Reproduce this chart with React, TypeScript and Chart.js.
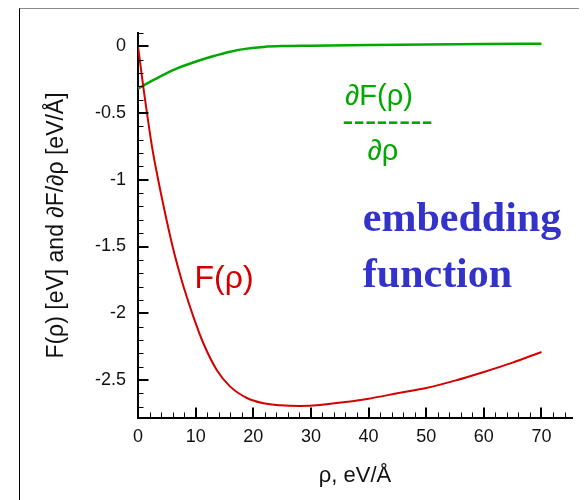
import React, { useEffect, useRef } from 'react';
import { Chart, registerables } from 'chart.js';

Chart.register(...registerables);

// ---- data ----
const RHO_F = [0, 0.5, 1, 1.56, 2.5, 3.5, 4.5, 6, 7, 8, 9.6, 11.34, 13.66, 16, 18.9, 21.8, 24.7, 28, 31.6, 36, 40, 45, 50, 55, 60, 65, 70];
const F_VALUES = [0, -0.165, -0.33, -0.5, -0.77, -1.0, -1.21, -1.5, -1.665, -1.815, -2.025, -2.225, -2.425, -2.55, -2.635, -2.675, -2.69, -2.695, -2.688, -2.665, -2.64, -2.6, -2.56, -2.505, -2.44, -2.37, -2.29];

const RHO_DF = [0, 2, 4.4, 7, 10.2, 13, 16, 18.9, 21.8, 25, 30, 40, 50, 60, 70];
const DF_VALUES = [-0.317, -0.268, -0.213, -0.162, -0.112, -0.074, -0.04, -0.017, -0.004, 0.002, 0.005, 0.01, 0.013, 0.017, 0.02];

const X_TICKS = [0, 10, 20, 30, 40, 50, 60, 70];
const X_TICK_LABELS = ['0', '10', '20', '30', '40', '50', '60', '70'];
const Y_TICKS = [0, -0.5, -1, -1.5, -2, -2.5];
const Y_TICK_LABELS = ['0', '-0.5', '-1', '-1.5', '-2', '-2.5'];

const X_LABEL = 'ρ, eV/Å';
const Y_LABEL = 'F(ρ) [eV] and ∂F/∂ρ [eV/Å]';

const X_MIN = 0;
const X_MAX = 75.3;
const Y_MIN = -2.785;
const Y_MAX = 0.1;

const RED = '#d40000';
const GREEN = '#00a800';
const BLUE = '#3333cc';
const SANS = '"Liberation Sans", Arial, Helvetica, sans-serif';
const SERIF = '"Liberation Serif", "Times New Roman", serif';

// annotation labels placed in data coordinates
const ANNOTATIONS = [
  { text: 'F(ρ)', x: 9.8, y: -1.81, color: RED, font: `32px ${SANS}`, align: 'left' },
  { text: '∂F(ρ)', x: 41.8, y: -0.443, color: GREEN, font: `29px ${SANS}`, align: 'center' },
  { text: '--------', x: 43.3, y: -0.64, color: GREEN, font: `34px ${SANS}`, align: 'center' },
  { text: '∂ρ', x: 42.5, y: -0.848, color: GREEN, font: `29px ${SANS}`, align: 'center' },
  { text: 'embedding', x: 39.0, y: -1.381, color: BLUE, font: `bold 42px ${SERIF}`, align: 'left' },
  { text: 'function', x: 39.0, y: -1.80, color: BLUE, font: `bold 42px ${SERIF}`, align: 'left' },
];

const innerTicks = {
  id: 'innerTicks',
  afterDatasetsDraw(chart: any) {
    const { ctx, chartArea: a, scales } = chart;
    const xs = scales.x;
    const ys = scales.y;
    ctx.save();
    ctx.strokeStyle = '#000';
    // x ticks every 2, majors every 10
    for (let i = 0; i <= 37; i++) {
      const v = i * 2;
      const major = v % 10 === 0;
      const px = xs.getPixelForValue(v);
      ctx.lineWidth = major ? 2 : 1;
      const xx = major ? Math.round(px) : Math.round(px) + 0.5;
      ctx.beginPath();
      ctx.moveTo(xx, a.bottom);
      ctx.lineTo(xx, a.bottom - (major ? 10.5 : 5.5));
      ctx.stroke();
    }
    // y ticks every 0.1, majors every 0.5
    for (let i = -27; i <= 1; i++) {
      const v = i / 10;
      const major = i % 5 === 0;
      const py = ys.getPixelForValue(v);
      ctx.lineWidth = major ? 2 : 1;
      const yy = major ? Math.round(py) : Math.round(py) + 0.5;
      ctx.beginPath();
      ctx.moveTo(a.left, yy);
      ctx.lineTo(a.left + (major ? 10.5 : 5.5), yy);
      ctx.stroke();
    }
    ctx.restore();
  },
  afterDraw(chart: any) {
    const { ctx, scales } = chart;
    ctx.save();
    ctx.textBaseline = 'alphabetic';
    for (const an of ANNOTATIONS) {
      ctx.font = an.font;
      ctx.fillStyle = an.color;
      ctx.textAlign = an.align;
      ctx.fillText(an.text, scales.x.getPixelForValue(an.x), scales.y.getPixelForValue(an.y));
    }
    ctx.restore();
  },
};

export default function App() {
  const ref = useRef<HTMLCanvasElement>(null);

  useEffect(() => {
    if (!ref.current) return;
    Chart.defaults.font.family = SANS;
    const chart = new Chart(ref.current, {
      type: 'line',
      data: {
        datasets: [
          {
            label: 'F',
            data: RHO_F.map((r, i) => ({ x: r, y: F_VALUES[i] })),
            borderColor: RED,
            borderWidth: 2,
            pointRadius: 0,
            cubicInterpolationMode: 'monotone',
            fill: false,
          },
          {
            label: 'dF',
            data: RHO_DF.map((r, i) => ({ x: r, y: DF_VALUES[i] })),
            borderColor: GREEN,
            borderWidth: 2.5,
            pointRadius: 0,
            cubicInterpolationMode: 'monotone',
            fill: false,
          },
        ],
      },
      options: {
        animation: false,
        responsive: true,
        maintainAspectRatio: false,
        devicePixelRatio: 1,
        layout: { padding: { top: 25, right: 15, left: 0, bottom: 0 } },
        plugins: { legend: { display: false }, tooltip: { enabled: false } },
        scales: {
          x: {
            type: 'linear',
            min: X_MIN,
            max: X_MAX,
            grid: { display: false, drawTicks: false },
            border: { display: true, color: '#000', width: 2 },
            afterBuildTicks: (s: any) => {
              s.ticks = X_TICKS.map((v) => ({ value: v }));
            },
            afterFit: (s: any) => {
              s.height = 82;
            },
            ticks: {
              padding: 8,
              color: '#111',
              font: { size: 18 },
              maxRotation: 0,
              autoSkip: false,
              callback: (v: any) => X_TICK_LABELS[X_TICKS.indexOf(Number(v))] ?? '',
            },
            title: {
              display: true,
              text: X_LABEL,
              color: '#111',
              font: { size: 22 },
              padding: { top: 0, bottom: 11 },
            },
          },
          y: {
            type: 'linear',
            min: Y_MIN,
            max: Y_MAX,
            grid: { display: false, drawTicks: false },
            border: { display: true, color: '#000', width: 2 },
            afterBuildTicks: (s: any) => {
              s.ticks = Y_TICKS.map((v) => ({ value: v }));
            },
            afterFit: (s: any) => {
              s.width = 130;
            },
            ticks: {
              padding: 12,
              color: '#111',
              font: { size: 18 },
              autoSkip: false,
              callback: (v: any) => Y_TICK_LABELS[Y_TICKS.indexOf(Number(v))] ?? '',
            },
            title: {
              display: true,
              text: Y_LABEL,
              color: '#111',
              font: { size: 23 },
              padding: { top: 35, bottom: 0 },
            },
          },
        },
      },
      plugins: [innerTicks],
    } as any);
    return () => chart.destroy();
  }, []);

  return (
    <div style={{ position: 'relative', width: 579, height: 492, overflow: 'hidden', background: '#fff' }}>
      <div
        style={{
          position: 'absolute',
          left: 11,
          top: 0,
          width: 700,
          height: 700,
          borderLeft: '1px solid #000',
          borderTop: '1px solid #8a8a8a',
          pointerEvents: 'none',
        }}
      />
      <div style={{ position: 'absolute', left: 0, top: 0, width: 579, height: 492 }}>
        <canvas ref={ref} />
      </div>
    </div>
  );
}
